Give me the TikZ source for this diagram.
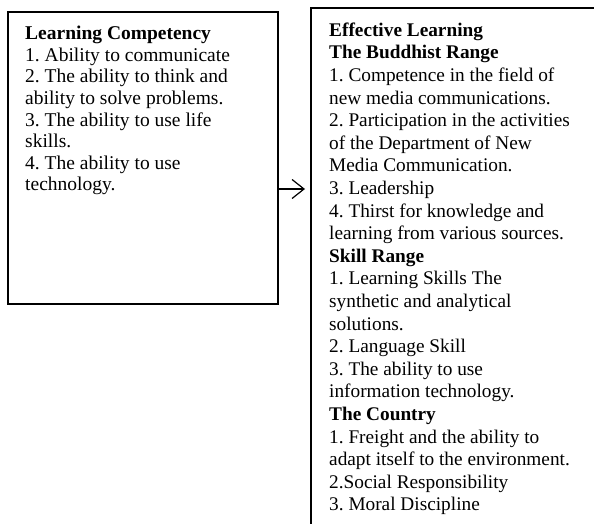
\documentclass[tikz,border=0pt]{standalone}
\usepackage{fontspec}
\setmainfont{Liberation Serif}
\usetikzlibrary{positioning,arrows.meta}
\frenchspacing

\begin{document}
\begin{tikzpicture}[x=1pt,y=1pt,
    panel/.style={draw,line width=1.7pt,anchor=north west,inner sep=0pt},
    listtext/.style={align=left,inner sep=0pt,anchor=north west},
    flow/.style={-{Straight Barb[length=12pt,width=19pt,line width=1.2pt]},line width=1.2pt,shorten >=5pt}]
  \useasboundingbox (0,0) rectangle (594,-524);
  \clip (0,0) rectangle (594,-524);

  % the two boxes
  \node[panel,minimum width=270pt,minimum height=292pt] (comp) at (7,-11) {};
  \node[panel,minimum width=320pt,minimum height=560pt] (learn) at (310,-7) {};

  % texts
  \node[listtext,font=\fontsize{19.5}{21.6}\selectfont,below right=15pt and 18pt of comp.north west] (comptext)
    {\textbf{Learning Competency}\\
     1. Ability to communicate\\
     2. The ability to think and\\
     ability to solve problems.\\
     3. The ability to use life\\
     skills.\\
     4. The ability to use\\
     technology.};

  \node[listtext,font=\fontsize{19.3}{22.6}\selectfont,below right=15.5pt and 19pt of learn.north west] (learntext)
    {\textbf{Effective Learning}\\
     \textbf{The Buddhist Range}\\
     1. Competence in the field of\\
     new media communications.\\
     2. Participation in the activities\\
     of the Department of New\\
     Media Communication.\\
     3. Leadership\\
     4. Thirst for knowledge and\\
     learning from various sources.\\
     \textbf{Skill Range}\\
     1. Learning Skills The\\
     synthetic and analytical\\
     solutions.\\
     2. Language Skill\\
     3. The ability to use\\
     information technology.\\
     \textbf{The Country}\\
     1. Freight and the ability to\\
     adapt itself to the environment.\\
     2.Social Responsibility\\
     3. Moral Discipline};

  % arrow
  \coordinate (lvl) at (0,-189);
  \draw[flow] (comp.east |- lvl) -- (learn.west |- lvl);
\end{tikzpicture}
\end{document}
